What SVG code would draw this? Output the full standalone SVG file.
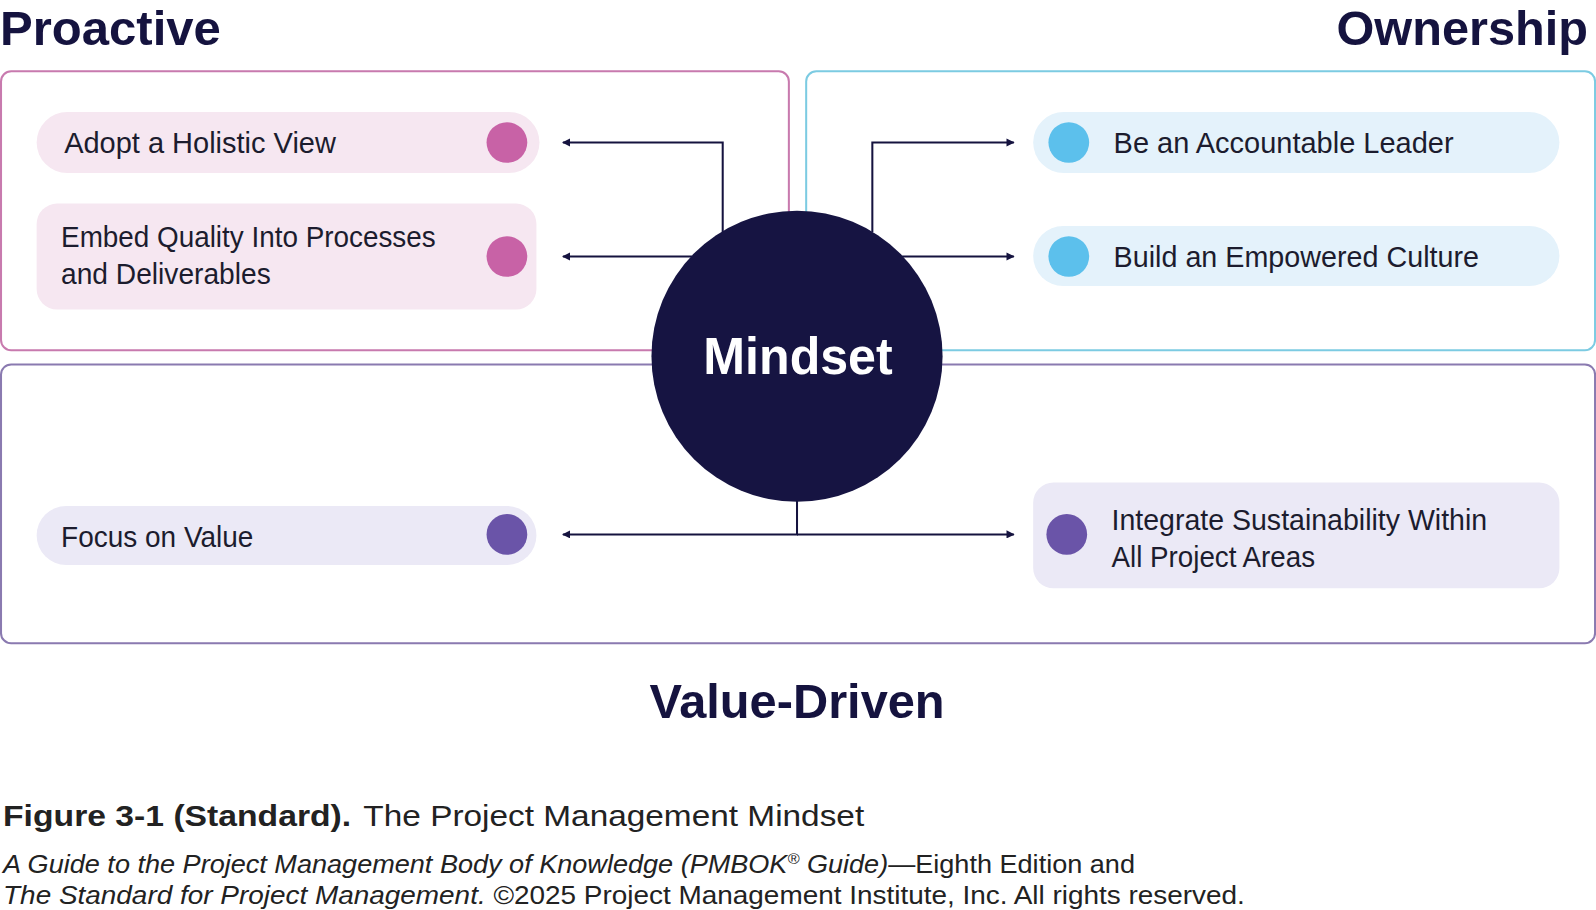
<svg xmlns="http://www.w3.org/2000/svg" width="1596" height="910" viewBox="0 0 1596 910">
<style>
text{font-family:"Liberation Sans",Arial,sans-serif}
.h{font-size:48px;font-weight:bold;fill:#15133f}
.t{font-size:29px;fill:#1c1c2e}
.frame{fill:none;stroke-width:2}
.c{fill:none;stroke:#15133f;stroke-width:2}
.cap{font-size:29px;fill:#222}
.it{font-size:25px;fill:#222}
</style>
<defs>
<marker id="a" viewBox="0 0 10 10" refX="9" refY="5" markerWidth="8" markerHeight="8" markerUnits="userSpaceOnUse" orient="auto"><path d="M0,0L10,5L0,10z" fill="#15133f"/></marker>
</defs>
<rect width="1596" height="910" fill="#fff"/>
<g transform="scale(1.0179)">
<g id="frames">
<rect class="frame" x="1" y="70" width="774" height="274" rx="10" stroke="#c87aae"/>
<rect class="frame" x="792" y="70" width="775" height="274" rx="10" stroke="#7ccbe2"/>
<rect class="frame" x="1" y="358" width="1566" height="274" rx="10" stroke="#8a7ab0"/>
</g>
<g id="titles">
<text class="h" x="0" y="44" textLength="217" lengthAdjust="spacingAndGlyphs">Proactive</text>
<text class="h" x="1313" y="44" textLength="247" lengthAdjust="spacingAndGlyphs">Ownership</text>
<text class="h" x="638" y="705" textLength="290" lengthAdjust="spacingAndGlyphs">Value-Driven</text>
</g>
<g id="connectors">
<path class="c" d="M710,228V140H553" marker-end="url(#a)"/>
<path class="c" d="M680,252H553" marker-end="url(#a)"/>
<path class="c" d="M857,228V140H996" marker-end="url(#a)"/>
<path class="c" d="M885,252H996" marker-end="url(#a)"/>
<path class="c" d="M783,490V525H553" marker-end="url(#a)"/>
<path class="c" d="M783,525H996" marker-end="url(#a)"/>
</g>
<g id="mindset">
<circle cx="783" cy="350" r="143" fill="#161442"/>
<text x="691" y="367" font-size="50" font-weight="bold" fill="#fff" textLength="186" lengthAdjust="spacingAndGlyphs">Mindset</text>
</g>
<g id="holistic">
<rect x="36" y="110" width="494" height="60" rx="30" fill="#f6e7f1"/>
<circle cx="498" cy="140" r="20" fill="#c862a6"/>
<text class="t" x="63" y="150" textLength="267" lengthAdjust="spacingAndGlyphs">Adopt a Holistic View</text>
</g>
<g id="quality">
<rect x="36" y="200" width="491" height="104" rx="20" fill="#f6e7f1"/>
<circle cx="498" cy="252" r="20" fill="#c862a6"/>
<text class="t" x="60" y="243" textLength="368" lengthAdjust="spacingAndGlyphs">Embed Quality Into Processes</text>
<text class="t" x="60" y="279" textLength="206" lengthAdjust="spacingAndGlyphs">and Deliverables</text>
</g>
<g id="leader">
<rect x="1015" y="110" width="517" height="60" rx="30" fill="#e4f2fb"/>
<circle cx="1050" cy="140" r="20" fill="#5cc0ec"/>
<text class="t" x="1094" y="150" textLength="334" lengthAdjust="spacingAndGlyphs">Be an Accountable Leader</text>
</g>
<g id="culture">
<rect x="1015" y="222" width="517" height="59" rx="29.5" fill="#e4f2fb"/>
<circle cx="1050" cy="252" r="20" fill="#5cc0ec"/>
<text class="t" x="1094" y="262" textLength="359" lengthAdjust="spacingAndGlyphs">Build an Empowered Culture</text>
</g>
<g id="value">
<rect x="36" y="497" width="491" height="58" rx="29" fill="#ebe9f6"/>
<circle cx="498" cy="525" r="20" fill="#6a54a8"/>
<text class="t" x="60" y="537" textLength="189" lengthAdjust="spacingAndGlyphs">Focus on Value</text>
</g>
<g id="sustainability">
<rect x="1015" y="474" width="517" height="104" rx="20" fill="#ebe9f6"/>
<circle cx="1048" cy="525" r="20" fill="#6a54a8"/>
<text class="t" x="1092" y="521" textLength="369" lengthAdjust="spacingAndGlyphs">Integrate Sustainability Within</text>
<text class="t" x="1092" y="557" textLength="200" lengthAdjust="spacingAndGlyphs">All Project Areas</text>
</g>
<g id="caption">
<text class="cap" x="3" y="811"><tspan font-weight="bold" textLength="342" lengthAdjust="spacingAndGlyphs">Figure 3-1 (Standard).</tspan><tspan x="357" textLength="492" lengthAdjust="spacingAndGlyphs">The Project Management Mindset</tspan></text>
<text class="it" x="3" y="858" textLength="1112" lengthAdjust="spacingAndGlyphs"><tspan font-style="italic">A Guide to the Project Management Body of Knowledge (PMBOK<tspan font-size="15" dy="-9">®</tspan><tspan dy="9"> Guide)</tspan></tspan>—Eighth Edition and</text>
<text class="it" x="3" y="888" textLength="1220" lengthAdjust="spacingAndGlyphs"><tspan font-style="italic">The Standard for Project Management.</tspan> ©2025 Project Management Institute, Inc. All rights reserved.</text>
</g>
</g>
</svg>
